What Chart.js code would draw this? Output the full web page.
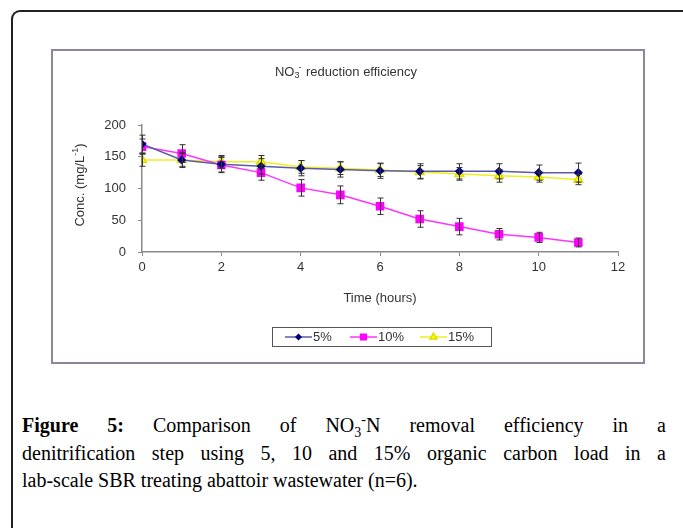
<!DOCTYPE html>
<html lang="en" style="overflow:hidden">
<head>
  <meta charset="UTF-8" />
  <title>NO3 reduction efficiency</title>
  <script src="https://cdn.jsdelivr.net/npm/chart.js"></script>
  <style>
    body { margin: 0; width: 683px; height: 528px; overflow: hidden; background: #fff; position: relative; }
    .frame { position: absolute; left: 11px; top: 10px; width: 720px; height: 600px; border-left: 2px solid #222; border-top: 2px solid #222; border-top-left-radius: 9px; }
    .box { position: absolute; left: 51px; top: 49px; width: 590px; height: 311px; border: 2px solid #8e8698; }
    .box canvas { display: block; }
    .caption { position: absolute; left: 22px; top: 412px; width: 644px; margin: 0; font-family: "Liberation Serif", serif; font-size: 20px; line-height: 27.5px; color: #000; }
    .caption span { display: block; white-space: nowrap; }
    .caption span.j { text-align: justify; text-align-last: justify; }
  </style>
</head>
<body>
  <div class="frame"></div>
  <div class="box"><canvas id="chart" width="590" height="311"></canvas></div>
  <p class="caption"><span class="j"><b>Figure 5:</b> Comparison of NO<sub style="font-size:14px;line-height:0">3</sub><sup style="font-size:14px;line-height:0">-</sup>N removal efficiency in a</span><span class="j">denitrification step using 5, 10 and 15% organic carbon load in a</span><span>lab-scale SBR treating abattoir wastewater (n=6).</span></p>

  <script>
    // data
    const hours = [0, 1, 2, 3, 4, 5, 6, 7, 8, 9, 10, 11];
    const conc5 = [170, 145, 138, 135, 132, 130, 128, 127, 127, 127, 125, 125];
    const conc10 = [166, 155, 137, 125, 101, 90, 72, 52, 40, 28, 23, 15];
    const conc15 = [145, 145, 142, 142, 134, 132, 129, 126, 123, 120, 118, 114];
    const err5 = [14, 12, 12, 12, 12, 12, 12, 12, 12, 12, 12, 15];
    const err10 = [12, 14, 12, 12, 13, 14, 13, 13, 13, 9, 8, 7];
    const err15 = [10, 10, 10, 10, 10, 10, 10, 10, 10, 10, 8, 8];
    const seriesNames = ['5%', '10%', '15%'];
    const xTicks = [0, 2, 4, 6, 8, 10, 12];
    const yTicks = [0, 50, 100, 150, 200];

    const font = '"Liberation Sans", Arial, sans-serif';
    const errs = [err5, err10, err15];

    function pts(vals) {
      return hours.map((h, i) => ({ x: h, y: vals[i] }));
    }

    // error bars, titles and boxed legend
    const extras = {
      id: 'extras',
      afterDatasetsDraw(chart) {
        const c = chart.ctx;
        const xs = chart.scales.x, ys = chart.scales.y;
        c.save();
        c.strokeStyle = '#333';
        c.lineWidth = 1;
        chart.data.datasets.forEach((ds, di) => {
          ds.data.forEach((p, i) => {
            const px = Math.round(xs.getPixelForValue(p.x)) + 0.5;
            const top = ys.getPixelForValue(p.y + errs[di][i]);
            const bot = ys.getPixelForValue(p.y - errs[di][i]);
            c.beginPath();
            c.moveTo(px, top); c.lineTo(px, bot);
            c.moveTo(px - 3, top); c.lineTo(px + 3, top);
            c.moveTo(px - 3, bot); c.lineTo(px + 3, bot);
            c.stroke();
          });
        });
        c.restore();
      },
      afterDraw(chart) {
        const c = chart.ctx;
        c.save();
        c.fillStyle = '#333';
        c.textBaseline = 'middle';
        // chart title with sub/superscript
        c.font = '13px ' + font;
        const a = 'NO', b = ' reduction efficiency';
        const wa = c.measureText(a).width;
        c.font = '9px ' + font;
        const wsub = c.measureText('3').width;
        c.font = '13px ' + font;
        const wb = c.measureText(b).width;
        let x = 293 - (wa + wsub + 3 + wb) / 2;
        const ty = 21;
        c.textAlign = 'left';
        c.fillText(a, x, ty); x += wa;
        c.font = '9px ' + font;
        c.fillText('3', x, ty + 4);
        c.fillText('-', x + wsub - 1, ty - 4);
        x += wsub + 3;
        c.font = '13px ' + font;
        c.fillText(b, x, ty);
        // x axis title
        c.textAlign = 'center';
        c.fillText('Time (hours)', 327, 247);
        // y axis title
        c.save();
        c.translate(27, 134);
        c.rotate(-Math.PI / 2);
        const t1 = 'Conc. (mg/L', t2 = ')';
        const w1 = c.measureText(t1).width, w2 = c.measureText(t2).width;
        c.font = '9px ' + font;
        const wsup = c.measureText('-1').width;
        let yx = -(w1 + wsup + w2) / 2;
        c.textAlign = 'left';
        c.font = '13px ' + font;
        c.fillText(t1, yx, 0); yx += w1;
        c.font = '9px ' + font;
        c.fillText('-1', yx, -4); yx += wsup;
        c.font = '13px ' + font;
        c.fillText(t2, yx, 0);
        c.restore();
        // legend box
        const lx = 219, ly = 276, lw = 219, lh = 19;
        c.strokeStyle = '#555';
        c.lineWidth = 1;
        c.strokeRect(lx + 0.5, ly + 0.5, lw, lh);
        const starts = [232, 297, 367];
        chart.data.datasets.forEach((ds, di) => {
          const sx = starts[di], cy = ly + lh / 2 + 0.5;
          c.strokeStyle = ds.borderColor;
          c.lineWidth = 1.5;
          c.beginPath();
          c.moveTo(sx, cy); c.lineTo(sx + 27, cy);
          c.stroke();
          c.fillStyle = ds.pointBackgroundColor;
          c.strokeStyle = ds.pointBorderColor;
          Chart.helpers.drawPoint(c, {
            pointStyle: ds.pointStyle, radius: ds.pointRadius - 1, borderWidth: 1, rotation: 0
          }, sx + 13.5, cy);
          c.fillStyle = '#333';
          c.font = '13px ' + font;
          c.textAlign = 'left';
          c.fillText(seriesNames[di], sx + 28, cy);
        });
        c.restore();
      }
    };

    new Chart(document.getElementById('chart'), {
      type: 'line',
      data: {
        datasets: [
          {
            label: seriesNames[0], data: pts(conc5),
            borderColor: '#5b5ba8', borderWidth: 1.5,
            pointStyle: 'rectRot', pointRadius: 3.5,
            pointBackgroundColor: '#000080', pointBorderColor: '#000080'
          },
          {
            label: seriesNames[1], data: pts(conc10),
            borderColor: '#ff33ff', borderWidth: 1.5,
            pointStyle: 'rect', pointRadius: 5,
            pointBackgroundColor: '#ff00ff', pointBorderColor: '#ff00ff'
          },
          {
            label: seriesNames[2], data: pts(conc15),
            borderColor: '#eeee22', borderWidth: 1.5,
            pointStyle: 'triangle', pointRadius: 5,
            pointBackgroundColor: '#ffff00', pointBorderColor: '#dddd00'
          }
        ]
      },
      options: {
        responsive: false,
        animation: false,
        layout: { padding: { top: 74, right: 25, left: 0, bottom: 0 } },
        plugins: { legend: { display: false }, title: { display: false }, tooltip: { enabled: false } },
        scales: {
          x: {
            type: 'linear', min: 0, max: 12,
            afterFit: s => { s.height = 110; },
            afterBuildTicks: s => { s.ticks = xTicks.map(v => ({ value: v })); },
            border: { color: '#8a8a8a', width: 1.5 },
            grid: { drawOnChartArea: false, drawTicks: true, tickLength: 4, color: '#8a8a8a' },
            ticks: { color: '#333', font: { family: font, size: 13 }, padding: 4, maxRotation: 0 }
          },
          y: {
            min: 0, max: 200,
            afterFit: s => { s.width = 89; },
            afterBuildTicks: s => { s.ticks = yTicks.map(v => ({ value: v })); },
            border: { color: '#8a8a8a', width: 1.5 },
            grid: { drawOnChartArea: false, drawTicks: true, tickLength: 4, color: '#8a8a8a' },
            ticks: { color: '#333', font: { family: font, size: 13 }, padding: 12 }
          }
        }
      },
      plugins: [extras]
    });
  </script>
</body>
</html>
